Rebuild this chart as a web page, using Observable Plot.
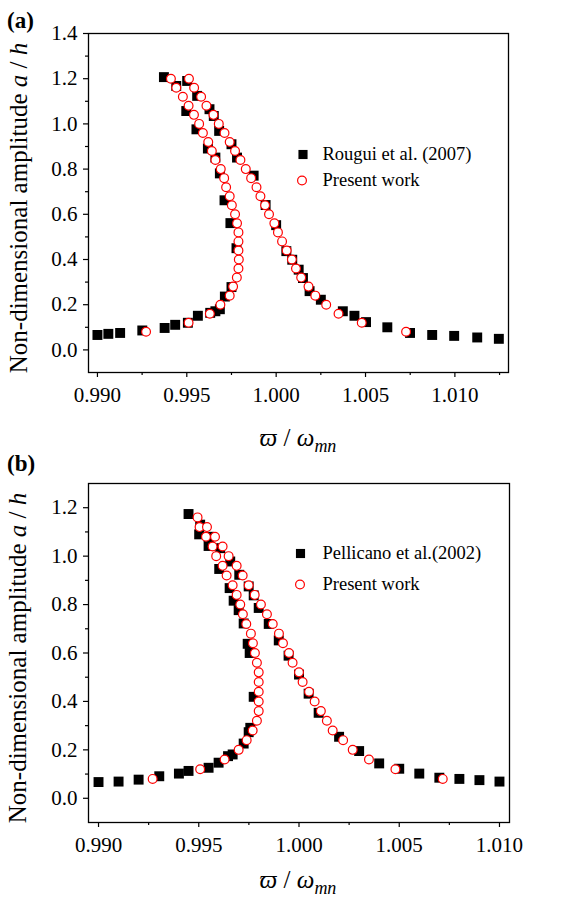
<!DOCTYPE html>
<html><head><meta charset="utf-8">
<script src="https://cdn.jsdelivr.net/npm/d3@7"></script>
<script src="https://cdn.jsdelivr.net/npm/@observablehq/plot@0.6"></script>
<style>
html,body{margin:0;padding:0;background:#fff;}
#wrap{position:relative;width:567px;height:900px;color:#000;font-family:"Liberation Serif","Times New Roman",serif;}
#wrap svg{position:absolute;left:0;overflow:visible;background:transparent;font-family:"Liberation Serif","Times New Roman",serif !important;}
#wrap svg text{font-family:"Liberation Serif","Times New Roman",serif !important;}
#wrap svg g[aria-label="x-axis tick label"], #wrap svg g[aria-label="y-axis tick label"]{font-size:21px;}
</style></head><body><div id="wrap"></div>
<script>
// ---------- text ----------
const panelLabels = ["(a)", "(b)"];
const legendA = ["Rougui et al. (2007)", "Present work"];
const legendB = ["Pellicano et al.(2002)", "Present work"];
const yTitleParts = ["Non-dimensional amplitude ", "a", " / ", "h"];
const xTitleParts = ["\u03D6", " / ", "\u03C9", "mn"];

// ---------- ticks ----------
const xMajorTicks = [0.990, 0.995, 1.000, 1.005, 1.010];
const xMinorTicksA = [0.9925, 0.9975, 1.0025, 1.0075, 1.0125];
const xMinorTicksB = [0.9925, 0.9975, 1.0025, 1.0075];
const yMajorTicksA = [0.0, 0.2, 0.4, 0.6, 0.8, 1.0, 1.2, 1.4];
const yMinorTicksA = [0.1, 0.3, 0.5, 0.7, 0.9, 1.1, 1.3];
const yMajorTicksB = [0.0, 0.2, 0.4, 0.6, 0.8, 1.0, 1.2];
const yMinorTicksB = [0.1, 0.3, 0.5, 0.7, 0.9, 1.1];

// ---------- panel (a) : Rougui et al. (2007) ----------
const aRefX = [0.99000,0.99061,0.99127,0.99251,0.99376,0.99435,0.99506,0.99562,0.99631,0.99660,0.99685,0.99713,0.99750,0.99778,0.99744,0.99711,0.99685,0.99660,0.99618,0.99554,0.99497,0.99441,0.99372,
               0.99502,0.99558,0.99627,0.99651,0.99681,0.99750,0.99781,0.99874,0.99941,1.00000,1.00057,1.00090,1.00126,1.00150,1.00187,1.00250,1.00373,1.00438,1.00503,1.00622,1.00749,1.00873,1.00996,1.01125,1.01246];
const aRefY = [0.066,0.071,0.075,0.086,0.097,0.111,0.120,0.151,0.164,0.171,0.180,0.236,0.278,0.450,0.561,0.662,0.781,0.851,0.891,0.976,1.057,1.168,1.207,
               1.190,1.124,1.065,1.035,0.969,0.910,0.851,0.771,0.641,0.552,0.437,0.399,0.355,0.318,0.260,0.222,0.171,0.151,0.123,0.100,0.075,0.066,0.062,0.055,0.049];
// ---------- panel (a) : present work ----------
const aPresX = [0.99272,0.99510,0.99629,0.99688,0.99740,0.99759,0.99780,0.99789,0.99791,0.99789,0.99789,0.99789,0.99781,0.99770,0.99752,0.99740,0.99720,0.99709,0.99690,0.99660,0.99640,0.99620,0.99590,0.99569,0.99540,0.99510,0.99478,0.99441,0.99411,
                0.99512,0.99541,0.99580,0.99610,0.99649,0.99679,0.99711,0.99740,0.99770,0.99800,0.99830,0.99860,0.99890,0.99912,0.99938,0.99960,0.99990,1.00010,1.00033,1.00059,1.00088,1.00111,1.00140,1.00181,1.00219,1.00280,1.00349,1.00479,1.00727];
const aPresY = [0.08,0.12,0.16,0.20,0.24,0.28,0.32,0.36,0.40,0.44,0.48,0.52,0.56,0.60,0.64,0.68,0.72,0.76,0.80,0.84,0.88,0.92,0.96,1.00,1.04,1.08,1.12,1.16,1.20,
                1.20,1.16,1.12,1.08,1.04,1.00,0.96,0.92,0.88,0.84,0.80,0.76,0.72,0.68,0.64,0.60,0.56,0.52,0.48,0.44,0.40,0.36,0.32,0.28,0.24,0.20,0.16,0.12,0.08];

// ---------- panel (b) : Pellicano et al. (2002) ----------
const bRefX = [0.99000,0.99100,0.99200,0.99303,0.99401,0.99449,0.99549,0.99599,0.99646,0.99669,0.99724,0.99749,0.99757,0.99774,0.99754,0.99744,0.99724,0.99699,0.99674,0.99654,0.99602,0.99549,0.99502,0.99449,
               0.99507,0.99550,0.99607,0.99657,0.99702,0.99749,0.99774,0.99799,0.99849,0.99899,0.99948,1.00000,1.00048,1.00098,1.00200,1.00300,1.00400,1.00500,1.00600,1.00700,1.00800,1.00900,1.01000];
const bRefY = [0.067,0.069,0.077,0.091,0.102,0.113,0.126,0.147,0.174,0.181,0.226,0.273,0.291,0.419,0.600,0.638,0.722,0.777,0.816,0.868,0.947,1.042,1.090,1.174,
               1.130,1.080,1.033,0.978,0.923,0.875,0.838,0.786,0.720,0.652,0.589,0.511,0.432,0.353,0.254,0.195,0.144,0.122,0.102,0.085,0.080,0.075,0.069];
// ---------- panel (b) : present work ----------
const bPresX = [0.99270,0.99507,0.99629,0.99699,0.99739,0.99769,0.99790,0.99799,0.99799,0.99799,0.99799,0.99799,0.99790,0.99780,0.99770,0.99760,0.99737,0.99720,0.99707,0.99689,0.99669,0.99639,0.99619,0.99587,0.99569,0.99536,0.99504,0.99494,
                0.99541,0.99581,0.99619,0.99649,0.99689,0.99719,0.99749,0.99779,0.99810,0.99840,0.99869,0.99900,0.99920,0.99950,0.99968,1.00000,1.00018,1.00050,1.00078,1.00109,1.00139,1.00168,1.00220,1.00268,1.00349,1.00481,1.00717];
const bPresY = [0.08,0.12,0.16,0.20,0.24,0.28,0.32,0.36,0.40,0.44,0.48,0.52,0.56,0.60,0.64,0.68,0.72,0.76,0.80,0.84,0.88,0.92,0.96,1.00,1.04,1.08,1.12,1.16,
                1.12,1.08,1.04,1.00,0.96,0.92,0.88,0.84,0.80,0.76,0.72,0.68,0.64,0.60,0.56,0.52,0.48,0.44,0.40,0.36,0.32,0.28,0.24,0.20,0.16,0.12,0.08];

const FONT = "Liberation Serif";
const SQ_R = 5.6, CI_R = 4.4;

function zip(xs, ys) { return xs.map((x, i) => ({x, y: ys[i]})); }

function makePanel(o) {
  const ref = zip(o.refX, o.refY);
  const pres = zip(o.presX, o.presY);
  const svg = Plot.plot({
    width: 567, height: o.height,
    marginTop: o.mt, marginBottom: o.mb, marginLeft: 88, marginRight: o.mr,
    style: {fontFamily: FONT, fontSize: "21px", background: "transparent", overflow: "visible", color: "#000"},
    x: {domain: o.xDomain},
    y: {domain: o.yDomain},
    marks: [
      Plot.axisX(o.xMinor, {tickSize: 3, tickFormat: () => "", label: null, strokeWidth: 1.2}),
      Plot.axisX(xMajorTicks, {tickSize: 5, tickPadding: 10, tickFormat: d3.format(".3f"), label: null, strokeWidth: 1.2, fontSize: 21, fontFamily: FONT}),
      Plot.axisY(o.yMinor, {tickSize: 3, tickFormat: () => "", label: null, strokeWidth: 1.2}),
      Plot.axisY(o.yMajor, {tickSize: 5, tickPadding: 6, tickFormat: d3.format(".1f"), label: null, strokeWidth: 1.2, fontSize: 21, fontFamily: FONT}),
      Plot.frame({stroke: "#000", strokeWidth: 1.3}),
      Plot.dot(ref, {x: "x", y: "y", symbol: "square", r: SQ_R, fill: "#000", stroke: "none"}),
      Plot.dot(pres, {x: "x", y: "y", symbol: "circle", r: CI_R, fill: "#fff", stroke: "#ff0000", strokeWidth: 1.2}),
      // legend
      Plot.dot([0], {frameAnchor: "top-left", dx: o.leg.sqx, dy: o.leg.sqy, symbol: "square", r: SQ_R * 0.92, fill: "#000"}),
      Plot.dot([0], {frameAnchor: "top-left", dx: o.leg.cix, dy: o.leg.ciy, symbol: "circle", r: CI_R, fill: "#fff", stroke: "#ff0000", strokeWidth: 1.2}),
      Plot.text([o.legend[0]], {frameAnchor: "top-left", dx: o.leg.tx, dy: o.leg.sqy, text: d => d, textAnchor: "start", lineAnchor: "middle", fontSize: 18.5, fill: "#000"}),
      Plot.text([o.legend[1]], {frameAnchor: "top-left", dx: o.leg.tx, dy: o.leg.ciy, text: d => d, textAnchor: "start", lineAnchor: "middle", fontSize: 18.5, fill: "#000"})
    ]
  });
  const s = d3.select(svg);
  // panel label
  s.append("text").attr("x", 7).attr("y", o.labY).attr("text-anchor", "start").attr("font-family", FONT).attr("font-weight", "bold")
    .attr("font-size", 23).attr("fill", "#000").text(o.label);
  // y title
  const yt = s.append("text").attr("transform", `translate(${o.ytX},${o.ytY}) rotate(-90)`)
    .attr("text-anchor", "middle").attr("font-family", FONT).attr("font-size", 25).attr("fill", "#000");
  yt.append("tspan").text(yTitleParts[0]);
  yt.append("tspan").attr("font-style", "italic").text(yTitleParts[1]);
  yt.append("tspan").text(yTitleParts[2]);
  yt.append("tspan").attr("font-style", "italic").text(yTitleParts[3]);
  // x title
  const xt = s.append("text").attr("x", o.xtX).attr("y", o.xtY)
    .attr("text-anchor", "middle").attr("font-family", FONT).attr("font-size", 25).attr("fill", "#000");
  xt.append("tspan").attr("font-style", "italic").text(xTitleParts[0]);
  xt.append("tspan").text(xTitleParts[1]);
  xt.append("tspan").attr("font-style", "italic").text(xTitleParts[2]);
  xt.append("tspan").attr("font-style", "italic").attr("font-size", 18).attr("dy", 6).text(xTitleParts[3]);
  svg.style.top = o.top + "px";
  return svg;
}

const wrap = document.getElementById("wrap");
wrap.append(makePanel({
  top: 0, height: 460, mt: 33, mb: 88, mr: 59,
  xDomain: [0.9895, 1.013], yDomain: [-0.1, 1.4],
  xMinor: xMinorTicksA, yMajor: yMajorTicksA, yMinor: yMinorTicksA,
  refX: aRefX, refY: aRefY, presX: aPresX, presY: aPresY,
  legend: legendA, leg: {sqx: 214.5, sqy: 121, cix: 213.5, ciy: 147, tx: 234},
  label: panelLabels[0], labY: 28, ytX: 27, ytY: 208, xtX: 298, xtY: 446
}));
wrap.append(makePanel({
  top: 450, height: 450, mt: 33, mb: 78, mr: 58,
  xDomain: [0.9895, 1.0105], yDomain: [-0.1, 1.3],
  xMinor: xMinorTicksB, yMajor: yMajorTicksB, yMinor: yMinorTicksB,
  refX: bRefX, refY: bRefY, presX: bPresX, presY: bPresY,
  legend: legendB, leg: {sqx: 212, sqy: 70, cix: 211.5, ciy: 101, tx: 234},
  label: panelLabels[1], labY: 21, ytX: 26, ytY: 208, xtX: 298, xtY: 438
}));
</script>
</body></html>
